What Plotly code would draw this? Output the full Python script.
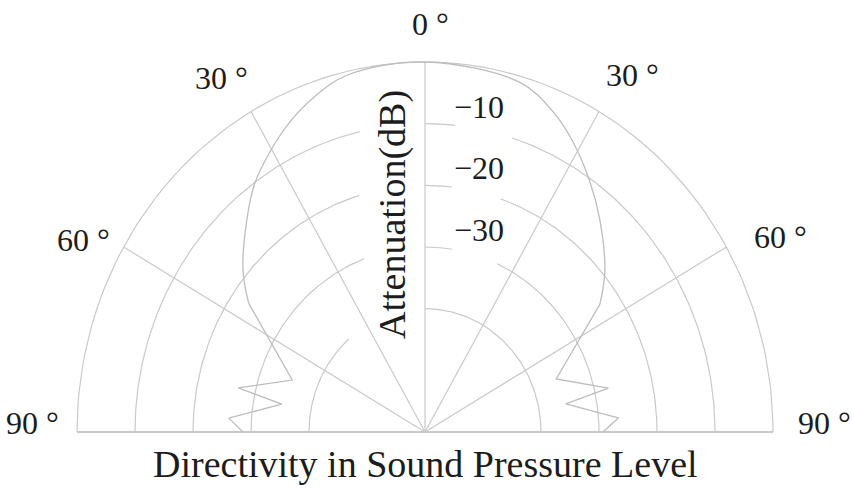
import numpy as np
import plotly.graph_objects as go

# ---------------- data ----------------
pattern_angle_deg = [-90, -86.2, -79.6, -77.5, -69.8, -55.5, -50.1, -41.8, -36.0, -30.5, -24.9,
                     -19.6, -13.1, 0, 16.1, 23.1, 28.5, 35.1, 41.3, 49.8, 55.5, 69.2, 77.3,
                     79.4, 86.1, 90]
pattern_atten_db = [-28.6, -26.1, -34.9, -27.0, -35.6, -23.1, -19.1, -13.9, -10.1, -7.3, -4.6,
                    -2.5, -0.6, 0, -1.0, -3.6, -6.5, -10.5, -14.3, -19.4, -23.4, -35.8, -27.6,
                    -35.3, -26.6, -29.3]
ring_db = [0, -10, -20, -30, -40]
ring_tick_db = [-10, -20, -30]
ring_tick_labels = ["\u221210", "\u221220", "\u221230"]
spoke_angles = [-90, -60, -30, 0, 30, 60, 90]
angle_tick_labels = ["90 \u00b0", "60 \u00b0", "30 \u00b0", "0 \u00b0", "30 \u00b0", "60 \u00b0", "90 \u00b0"]
db_min = -60
db_max = 0

# ---------------- geometry / style ----------------
W, H = 852, 489
CX, CY = 425, 432          # pixel position of the pole
HX = 348 / 6               # px per radial unit, horizontal
VY = 370 / 6               # px per radial unit, vertical

def r_of(db):
    return (np.asarray(db, dtype=float) - db_min) / 10.0

def xy(theta_deg, db):
    t = np.radians(np.asarray(theta_deg, dtype=float))
    r = r_of(db)
    return r * np.sin(t), r * np.cos(t)

def px2data(px, py):
    return (px - CX) / HX, (CY - py) / VY

GRID = "#c9c9c9"
TXT = "#1c1c1c"
SERIF = "Liberation Serif, Times New Roman, serif"

# angular segments actually drawn for each ring (gaps leave room for labels)
ring_segments = {
    0: [(-90, 90)],
    -10: [(-90, -13), (0, 6), (17.5, 90)],
    -20: [(-90, -16.5), (0, 6.7), (19, 90)],
    -30: [(-90, -20.5), (0, 9), (24.5, 90)],
    -40: [(-90, -41), (0, 90)],
}

fig = go.Figure()

# rings
gx, gy = [], []
for db in ring_db:
    for a0, a1 in ring_segments[db]:
        th = np.linspace(a0, a1, 120)
        x, y = xy(th, np.full_like(th, db))
        gx += list(x) + [None]
        gy += list(y) + [None]
fig.add_trace(go.Scatter(x=gx, y=gy, mode="lines", line=dict(color=GRID, width=1.2),
                         hoverinfo="skip", showlegend=False))

# spokes
sx, sy = [], []
for a in spoke_angles:
    if abs(a) == 90:
        continue
    x, y = xy([a, a], [db_min, db_max])
    sx += list(x) + [None]
    sy += list(y) + [None]
fig.add_trace(go.Scatter(x=sx, y=sy, mode="lines", line=dict(color=GRID, width=1.2),
                         hoverinfo="skip", showlegend=False))
# baseline (±90° spokes)
bx0, by0 = xy([-90], [db_max])
bx1, by1 = xy([90], [db_max])
fig.add_trace(go.Scatter(x=[bx0[0], 0, bx1[0]], y=[0, 0, 0], mode="lines",
                         line=dict(color=GRID, width=2.2), hoverinfo="skip", showlegend=False))

# directivity pattern
ang = np.array(pattern_angle_deg)
att = np.array(pattern_atten_db)
px_, py_ = xy(ang, att)
lobe = np.abs(ang) <= 55.5
left = ang <= -55.5
right = ang >= 55.5
PAT = "#bdbdbd"
for mask, shape in [(left, "linear"), (lobe, "spline"), (right, "linear")]:
    fig.add_trace(go.Scatter(x=px_[mask], y=py_[mask], mode="lines",
                             line=dict(color=PAT, width=1.3, shape=shape),
                             hoverinfo="skip", showlegend=False))

ann = []
# angle labels
angle_label_px = {-90: (32, 423), -60: (83, 240), -30: (221, 78), 0: (430, 24),
                  30: (632, 75), 60: (780, 237), 90: (824, 423)}
for a, lab in zip(spoke_angles, angle_tick_labels):
    x, y = px2data(*angle_label_px[a])
    ann.append(dict(x=x, y=y, text=lab, showarrow=False, xanchor="center", yanchor="middle",
                    font=dict(family=SERIF, size=32, color=TXT)))
# ring labels
for db, lab in zip(ring_tick_db, ring_tick_labels):
    ann.append(dict(x=(479 - CX) / HX, y=float(r_of(db)), text=lab, showarrow=False,
                    xanchor="center", yanchor="middle", yshift=17,
                    font=dict(family=SERIF, size=32, color=TXT)))
# axis titles
x, y = px2data(392, 215)
ann.append(dict(x=x, y=y, text="Attenuation(dB)", textangle=-90, showarrow=False,
                xanchor="center", yanchor="middle",
                font=dict(family=SERIF, size=38, color=TXT)))
x, y = px2data(425, 464)
ann.append(dict(x=x, y=y, text="Directivity in Sound Pressure Level", showarrow=False,
                xanchor="center", yanchor="middle",
                font=dict(family=SERIF, size=38, color=TXT)))

fig.update_layout(
    width=W, height=H, margin=dict(l=0, r=0, t=0, b=0),
    paper_bgcolor="white", plot_bgcolor="white",
    xaxis=dict(range=[-CX / HX, (W - CX) / HX], visible=False, fixedrange=True),
    yaxis=dict(range=[-(H - CY) / VY, CY / VY], visible=False, fixedrange=True),
    annotations=ann, showlegend=False,
)

fig.write_html("out.html")
